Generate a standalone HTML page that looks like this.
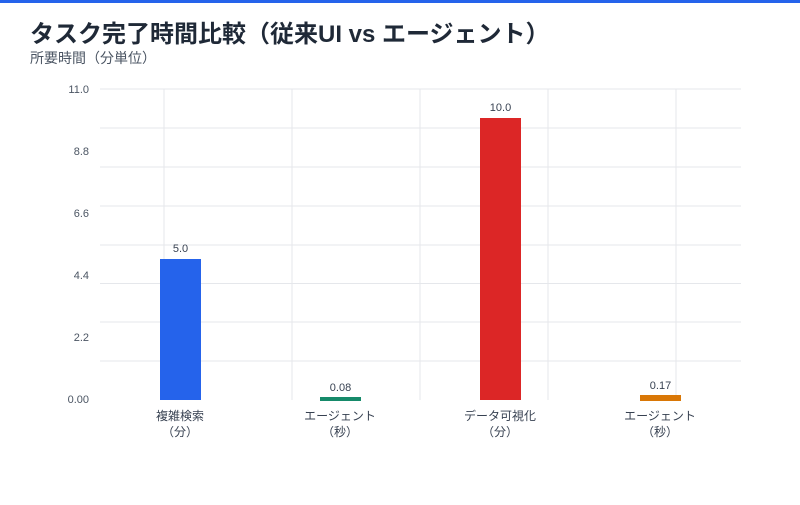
<!DOCTYPE html>
<html><head><meta charset="utf-8"><style>
body{margin:0;width:800px;height:500px;background:#fff;overflow:hidden;font-family:"Liberation Sans","Noto Sans CJK JP",sans-serif;}
</style></head><body>
<svg width="800" height="500" xmlns="http://www.w3.org/2000/svg" font-family="Liberation Sans, Noto Sans CJK JP, sans-serif">
<rect x="0" y="0" width="800" height="3" fill="#2563eb"/>
<text x="30" y="42" font-size="24" font-weight="bold" fill="#1f2937">タスク完了時間比較（従来UI vs エージェント）</text>
<text x="30" y="63" font-size="14" fill="#4b5563">所要時間（分単位）</text>
<g stroke="#e5e7eb" stroke-width="1">
<line x1="100" y1="89" x2="741" y2="89"/><line x1="100" y1="128" x2="741" y2="128"/>
<line x1="100" y1="167" x2="741" y2="167"/><line x1="100" y1="206" x2="741" y2="206"/>
<line x1="100" y1="245" x2="741" y2="245"/><line x1="100" y1="283.5" x2="741" y2="283.5"/>
<line x1="100" y1="322" x2="741" y2="322"/><line x1="100" y1="361" x2="741" y2="361"/>
<line x1="164" y1="89" x2="164" y2="400"/><line x1="292" y1="89" x2="292" y2="400"/>
<line x1="420" y1="89" x2="420" y2="400"/><line x1="548" y1="89" x2="548" y2="400"/>
<line x1="676" y1="89" x2="676" y2="400"/>
</g>
<g font-size="11" fill="#4b5563" text-anchor="end">
<text x="89" y="93">11.0</text><text x="89" y="155">8.8</text><text x="89" y="217">6.6</text>
<text x="89" y="279">4.4</text><text x="89" y="341">2.2</text><text x="89" y="403">0.00</text>
</g>
<rect x="160" y="259" width="41" height="141" fill="#2563eb"/>
<rect x="320" y="397" width="41" height="4" fill="#168a6a"/>
<rect x="480" y="118" width="41" height="282" fill="#dc2626"/>
<rect x="640" y="395" width="41" height="6" fill="#d97706"/>
<g font-size="11" fill="#374151" text-anchor="middle">
<text x="180.5" y="252">5.0</text><text x="340.5" y="391">0.08</text>
<text x="500.5" y="111">10.0</text><text x="660.5" y="389">0.17</text>
</g>
<g font-size="12" fill="#374151" text-anchor="middle">
<text x="180" y="420">複雑検索</text><text x="180" y="436">（分）</text>
<text x="340" y="420">エージェント</text><text x="340" y="436">（秒）</text>
<text x="500" y="420">データ可視化</text><text x="500" y="436">（分）</text>
<text x="660" y="420">エージェント</text><text x="660" y="436">（秒）</text>
</g>
</svg>
</body></html>
